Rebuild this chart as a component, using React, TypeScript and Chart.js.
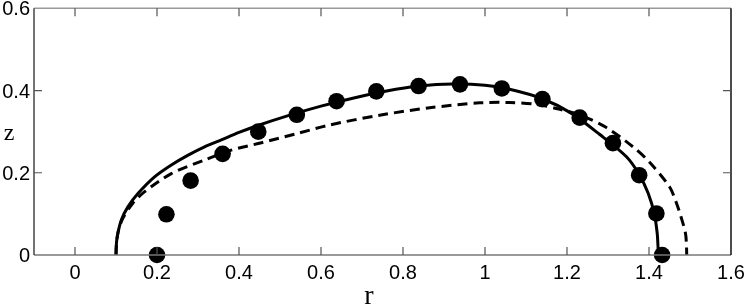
import React, { useEffect, useRef } from "react";
import { Chart, registerables } from "chart.js";

Chart.register(...registerables);

// Experimental points (r, z)
const dotR = [0.2, 0.223, 0.282, 0.36, 0.447, 0.541, 0.638, 0.735, 0.838, 0.939, 1.041, 1.14, 1.231, 1.312, 1.376, 1.418, 1.432];
const dotZ = [0.0, 0.099, 0.181, 0.246, 0.3, 0.341, 0.374, 0.398, 0.411, 0.415, 0.405, 0.379, 0.334, 0.272, 0.194, 0.101, 0.0];

// Solid curve (r, z)
const solidR = [0.1, 0.1005, 0.103, 0.113, 0.129, 0.154, 0.194, 0.235, 0.276, 0.316, 0.357, 0.4, 0.446, 0.52, 0.6, 0.68, 0.76, 0.84, 0.92, 1.0, 1.06, 1.14, 1.21, 1.28, 1.345, 1.376, 1.398, 1.413, 1.42, 1.422, 1.423];
const solidZ = [0.0, 0.02, 0.045, 0.085, 0.117, 0.15, 0.19, 0.219, 0.243, 0.263, 0.28, 0.298, 0.315, 0.339, 0.362, 0.382, 0.399, 0.411, 0.416, 0.413, 0.403, 0.38, 0.345, 0.293, 0.239, 0.196, 0.15, 0.1, 0.053, 0.02, 0.0];

// Dashed curve (r, z)
const dashR = [0.1, 0.1015, 0.106, 0.117, 0.141, 0.17, 0.235, 0.316, 0.381, 0.455, 0.54, 0.62, 0.743, 0.865, 0.987, 1.06, 1.12, 1.18, 1.24, 1.296, 1.361, 1.402, 1.45, 1.466, 1.478, 1.489, 1.4915, 1.492];
const dashZ = [0.0, 0.03, 0.06, 0.09, 0.126, 0.154, 0.198, 0.231, 0.255, 0.273, 0.295, 0.316, 0.34, 0.358, 0.37, 0.371, 0.367, 0.355, 0.337, 0.31, 0.263, 0.225, 0.166, 0.129, 0.093, 0.053, 0.02, 0.0];

const xTicks = [0, 0.2, 0.4, 0.6, 0.8, 1, 1.2, 1.4, 1.6];
const yTicks = [0, 0.2, 0.4, 0.6];
const tickText = (v: number) => String(Math.round(v * 10) / 10);

const zip = (a: number[], b: number[]) => a.map((x, i) => ({ x, y: b[i] }));

const framePlugin = {
  id: "frame",
  afterDraw(chart: any) {
    const { ctx, chartArea: a, scales } = chart;
    const xs = scales.x;
    const ys = scales.y;
    ctx.save();
    ctx.lineWidth = 1.5;
    // box
    ctx.strokeStyle = "#777";
    ctx.beginPath();
    ctx.moveTo(a.left, a.bottom);
    ctx.lineTo(a.right, a.bottom);
    ctx.stroke();
    ctx.strokeStyle = "#999";
    ctx.beginPath();
    ctx.moveTo(a.left, a.top);
    ctx.lineTo(a.right, a.top);
    ctx.stroke();
    ctx.strokeStyle = "#444";
    ctx.beginPath();
    ctx.moveTo(a.left, a.top);
    ctx.lineTo(a.left, a.bottom);
    ctx.stroke();
    ctx.strokeStyle = "#111";
    ctx.beginPath();
    ctx.moveTo(a.right, a.top);
    ctx.lineTo(a.right, a.bottom);
    ctx.stroke();
    // inward ticks
    const tl = 8;
    ctx.strokeStyle = "#555";
    ctx.lineWidth = 1.2;
    ctx.beginPath();
    xTicks.forEach((v) => {
      const px = xs.getPixelForValue(v);
      if (px > a.left + 1 && px < a.right - 1) {
        ctx.moveTo(px, a.bottom);
        ctx.lineTo(px, a.bottom - tl);
        ctx.moveTo(px, a.top);
        ctx.lineTo(px, a.top + tl);
      }
    });
    yTicks.forEach((v) => {
      const py = ys.getPixelForValue(v);
      if (py > a.top + 1 && py < a.bottom - 1) {
        ctx.moveTo(a.left, py);
        ctx.lineTo(a.left + tl, py);
        ctx.moveTo(a.right, py);
        ctx.lineTo(a.right - tl, py);
      }
    });
    ctx.stroke();
    // tick labels
    ctx.fillStyle = "#000";
    ctx.font = "20px 'Liberation Sans', Arial, sans-serif";
    ctx.textBaseline = "alphabetic";
    ctx.textAlign = "center";
    xTicks.forEach((v) => {
      ctx.fillText(tickText(v), xs.getPixelForValue(v), a.bottom + 24);
    });
    ctx.textAlign = "right";
    yTicks.forEach((v) => {
      ctx.fillText(tickText(v), a.left - 4, ys.getPixelForValue(v) + 7);
    });
    // axis titles
    ctx.textAlign = "center";
    ctx.font = "24px 'Liberation Serif', serif";
    ctx.fillText("z", 9, 140);
    ctx.font = "28px 'Liberation Serif', serif";
    ctx.fillText("r", 369, 304);
    ctx.restore();
  },
};

export default function App() {
  const ref = useRef<HTMLCanvasElement>(null);
  useEffect(() => {
    if (!ref.current) return;
    const chart = new Chart(ref.current, {
      type: "scatter",
      data: {
        datasets: [
          {
            label: "solid",
            data: zip(solidR, solidZ),
            showLine: true,
            borderColor: "#000",
            borderWidth: 3,
            pointRadius: 0,
            tension: 0.3,
            order: 2,
          },
          {
            label: "dashed",
            data: zip(dashR, dashZ),
            showLine: true,
            borderColor: "#000",
            borderWidth: 3,
            borderDash: [10, 6],
            pointRadius: 0,
            tension: 0.3,
            order: 3,
          },
          {
            label: "points",
            data: zip(dotR, dotZ),
            showLine: false,
            backgroundColor: "#000",
            borderColor: "#000",
            pointRadius: 8.3,
            pointBorderWidth: 0,
            order: 1,
          },
        ],
      },
      options: {
        animation: false,
        responsive: false,
        devicePixelRatio: 1,
        clip: false as any,
        layout: { padding: { top: 8, right: 15, left: 34, bottom: 51 } },
        plugins: { legend: { display: false }, tooltip: { enabled: false } },
        scales: {
          x: { type: "linear", min: -0.1, max: 1.6, display: false },
          y: { type: "linear", min: 0, max: 0.6, display: false },
        },
      },
      plugins: [framePlugin],
    });
    return () => chart.destroy();
  }, []);
  return (
    <div style={{ position: "absolute", left: 0, top: 0, width: 746, height: 306, background: "#fff" }}>
      <canvas ref={ref} width={746} height={306} />
    </div>
  );
}
